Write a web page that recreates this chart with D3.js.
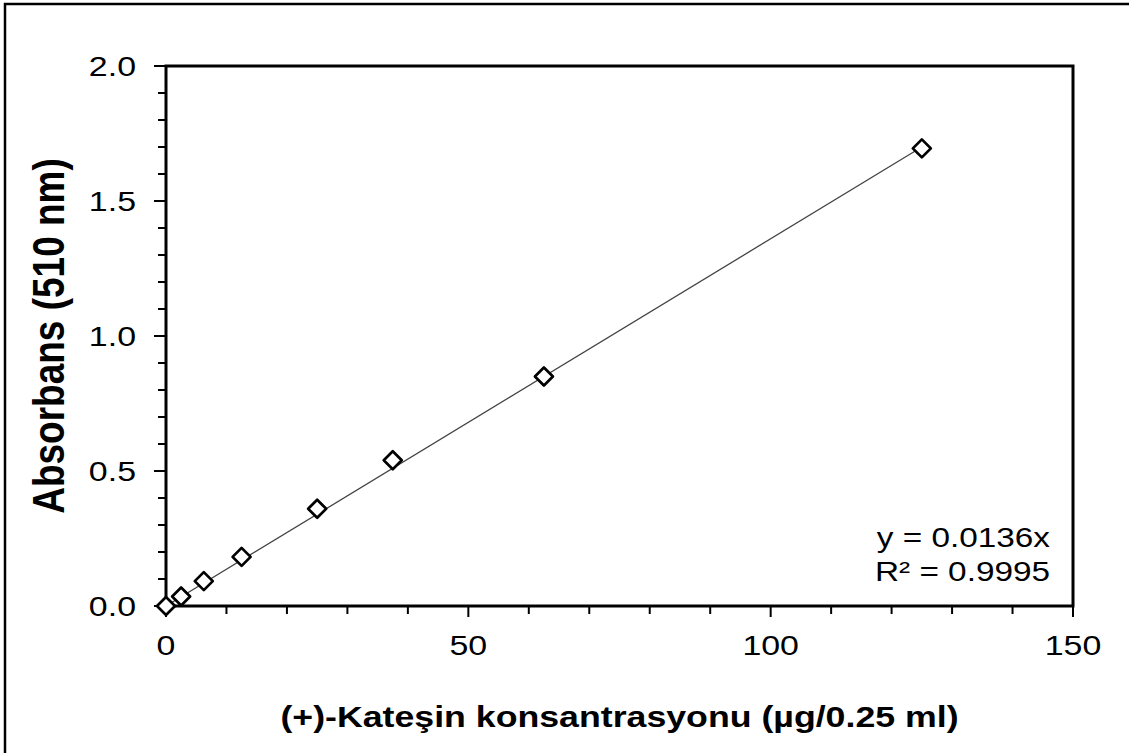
<!DOCTYPE html>
<html>
<head>
<meta charset="utf-8">
<script src="https://cdn.jsdelivr.net/npm/d3@7"></script>
<style>
html,body{margin:0;padding:0;background:#fff;}
svg{display:block;}
text{font-family:"Liberation Sans",Arial,sans-serif;fill:#000;}
</style>
</head>
<body>
<svg id="chart" width="1129" height="753"></svg>
<script>
// Data
const concentrations = [0, 2.5, 6.25, 12.5, 25, 37.5, 62.5, 125];
const absorbances = [0.0, 0.035, 0.092, 0.182, 0.36, 0.54, 0.85, 1.695];
const slope = 0.0136;
const xTicks = [0, 50, 100, 150];
const yTicks = [0.0, 0.5, 1.0, 1.5, 2.0];
const xMinorTicks = d3.range(0, 151, 10);
const yMinorTicks = d3.range(0, 21, 1).map(d => d / 10);
const equationLines = ["y = 0.0136x", "R\u00B2 = 0.9995"];
const xTitle = "(+)-Kateşin konsantrasyonu (µg/0.25 ml)";
const yTitle = "Absorbans (510 nm)";

const svg = d3.select("#chart");
const SX = 1.19; // horizontal text stretch
const plot = {left: 166, right: 1073, top: 66, bottom: 606};

const x = d3.scaleLinear().domain([0, 150]).range([plot.left, plot.right]);
const y = d3.scaleLinear().domain([0, 2]).range([plot.bottom, plot.top]);

// outer border
svg.append("rect").attr("x", 5).attr("y", 4).attr("width", 1200).attr("height", 800)
  .attr("fill", "#fff").attr("stroke", "#000").attr("stroke-width", 2.5);

// ticks
const gMinor = svg.append("g").attr("stroke", "#000").attr("stroke-width", 2);
gMinor.selectAll("line.xm").data(xMinorTicks).join("line")
  .attr("x1", d => x(d)).attr("x2", d => x(d))
  .attr("y1", plot.bottom).attr("y2", d => plot.bottom + (d % 50 === 0 ? 11 : 8));
gMinor.selectAll("line.ym").data(yMinorTicks).join("line")
  .attr("y1", d => y(d)).attr("y2", d => y(d))
  .attr("x1", plot.left).attr("x2", d => plot.left - (Math.round(d * 10) % 5 === 0 ? 12 : 8));

// plot frame
svg.append("rect").attr("x", plot.left).attr("y", plot.top)
  .attr("width", plot.right - plot.left).attr("height", plot.bottom - plot.top)
  .attr("fill", "none").attr("stroke", "#000").attr("stroke-width", 3);

// tick labels
const fmt = d3.format(".1f");
svg.selectAll("text.yl").data(yTicks).join("text")
  .attr("transform", d => `translate(136,${y(d) + 10}) scale(${SX},1)`)
  .attr("text-anchor", "end").attr("font-size", 28.5).text(d => fmt(d));
svg.selectAll("text.xl").data(xTicks).join("text")
  .attr("transform", d => `translate(${x(d)},655) scale(${SX},1)`)
  .attr("text-anchor", "middle").attr("font-size", 28.5).text(d => d);

// trend line
svg.append("line")
  .attr("x1", x(0)).attr("y1", y(0))
  .attr("x2", x(125)).attr("y2", y(slope * 125))
  .attr("stroke", "#444").attr("stroke-width", 1.3);

// markers
const pts = concentrations.map((c, i) => [c, absorbances[i]]);
const r = 9;
svg.selectAll("path.pt").data(pts).join("path")
  .attr("d", d => {
    const cx = x(d[0]), cy = y(d[1]);
    return `M${cx},${cy - r}L${cx + r},${cy}L${cx},${cy + r}L${cx - r},${cy}Z`;
  })
  .attr("fill", "#fff").attr("stroke", "#000").attr("stroke-width", 2.7)
  .attr("stroke-linejoin", "round");

// equation
svg.selectAll("text.eq").data(equationLines).join("text")
  .attr("transform", (d, i) => `translate(1050,${547 + i * 34}) scale(${SX},1)`)
  .attr("text-anchor", "end").attr("font-size", 28).text(d => d);

// axis titles
svg.append("text")
  .attr("transform", `translate(${(plot.left + plot.right) / 2},727) scale(${SX},1)`)
  .attr("text-anchor", "middle").attr("font-size", 30).attr("font-weight", "bold").text(xTitle);
svg.append("text")
  .attr("transform", `translate(64,${(plot.top + plot.bottom) / 2}) scale(${SX},1) rotate(-90)`)
  .attr("text-anchor", "middle").attr("font-size", 37).attr("font-weight", "bold").text(yTitle);
</script>
</body>
</html>
